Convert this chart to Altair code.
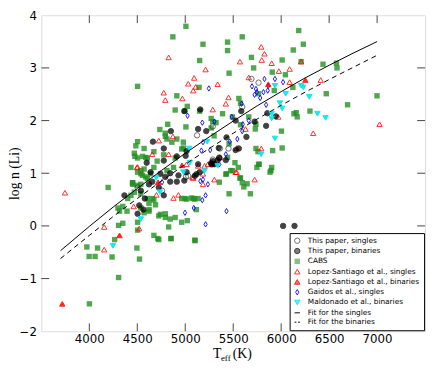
import altair as alt
import pandas as pd

# ---------------- data ----------------
cabs_teff = [5007, 4871, 5185, 5150, 4503, 4912, 5144, 5021, 4895, 5007, 4817, 4735, 4792, 4503, 4485, 4469,
             4571, 4673, 4912, 4980, 4503, 4605, 4707, 4776, 4571, 4673, 4809, 4878, 4537, 4588, 4639, 4451,
             4196, 5287, 5301,
             6183, 6231, 6126, 5441, 5441, 5594, 5690, 5713, 6010, 6208, 5457, 6044, 5907, 6436, 6576, 6582,
             6999, 6692, 6470, 6300, 6157, 6133, 6167, 6003, 6010, 5911, 5737, 5758, 5771, 5747, 5901, 5894,
             5570, 5594, 5645, 5611, 5355, 5430, 5474, 5518, 5559, 5576, 5764, 5928, 6122, 5389, 5730, 5737,
             5662, 5492, 5457, 5270, 5576,
             4298, 4393, 4305, 4349, 4503, 4451, 4503, 4400, 4469, 4537, 4503, 4571, 4622, 4656, 4690, 4724,
             4792, 4673, 4714, 4496, 4086, 3974, 4264, 4475, 4588, 4503, 4605,
             3998, 4060, 4237, 4305, 4001, 4523, 4853, 5103,
             5441, 5553, 5492, 5423, 5576, 5679, 5457, 5764, 5884, 5134, 5083, 5014, 4963, 5116, 4792, 4843,
             4895, 4963, 5021, 4827, 4850, 5099, 4724, 4895,
             4997, 4792, 4809, 4860, 5270, 5321, 4980, 4963, 4554, 5150,
             4434, 4537, 4554, 4451, 4537, 4434, 4605, 4622, 4673, 4997, 5065, 5099, 4537, 4622, 4741, 4349,
             4315]
cabs_logn = [3.79, 3.59, 3.45, 3.14, 2.65, 2.47, 2.63, 2.27, 2.20, 1.88, 1.93, 1.83, 1.70, 1.60, 1.52, 1.38,
             1.47, 1.41, 1.65, 1.48, 1.29, 1.29, 1.23, 1.35, 1.08, 1.11, 1.05, 1.11, 0.99, 0.93, 0.99, 0.79,
             0.73, 1.98, 1.71,
             3.71, 3.45, 3.34, 3.49, 3.33, 3.59, 3.20, 3.00, 3.15, 3.12, 2.90, 2.87, 2.92, 3.07, 3.09, 3.00,
             2.47, 2.30, 2.51, 2.18, 2.15, 2.13, 2.07, 1.80, 1.48, 1.43, 1.47, 1.41, 1.17, 1.11, 1.11, 1.05,
             0.91, 0.82, 0.80, 0.74, 0.83, 0.99, 1.05, 1.20, 2.42, 2.33, 2.51, 2.57, 2.63, 2.13, 1.84, 1.93,
             2.07, 2.07, 1.56, 1.86, 1.92,
             0.34, 0.28, 0.01, 0.05, 0.07, 0.82, 0.77, 0.52, 0.64, 0.61, -0.08, 0.25, 0.28, 0.52, 0.40, 0.19,
             0.16, -0.18, -0.24, -0.42, -0.42, -0.40, -0.26, 1.32, 1.30, 1.02, 0.90,
             -0.58, -0.58, -0.59, -0.98, -1.48, -0.63, -0.24, -0.28,
             1.30, 1.11, 1.05, 0.98, 0.91, 0.61, 0.61, 1.17, 1.02, 0.52, 0.52, 0.51, 0.52, 0.31, 0.23, 0.13,
             0.16, 0.07, 0.10, -0.02, -0.24, -0.27, -0.26, 1.29,
             2.18, 1.76, 1.65, 1.59, 2.04, 1.96, 1.59, 1.46, 1.32, 2.18,
             1.11, 1.05, 0.96, 0.82, 0.79, 0.58, 0.52, 0.43, 0.49, 0.52, 0.53, 0.51, 0.34, 0.31, 0.22, 0.37,
             0.28]

lopez_s_teff = [4827, 5212, 5093, 5031, 5109, 5083, 4776, 4792, 4970, 5287, 4871, 4724, 4656, 4827, 4496, 5083,
                5201, 5304, 5792, 5826, 5798, 5570, 5901, 5976, 6088, 6208, 5662, 5338, 6088, 6412, 5451, 5423,
                5969, 5628, 6334, 7026, 5536, 5792, 5536, 3746, 4155, 4155, 4462, 4520, 4503, 4700, 5525, 5723,
                5185, 5075, 5185, 4929, 4878, 5236, 5134, 5362, 5014]
lopez_s_logn = [3.20, 2.97, 2.81, 2.70, 2.64, 2.57, 2.53, 2.39, 2.42, 2.21, 1.70, 1.62, 1.36, 1.36, 1.11, 0.91,
                1.14, 0.88, 3.40, 3.27, 3.15, 3.12, 3.09, 2.94, 2.98, 3.12, 2.82, 2.69, 2.73, 2.77, 2.44, 2.32,
                2.07, 1.84, 1.76, 1.93, 1.48, 1.47, 1.02, 0.63, -0.02, -0.45, 0.37, -0.05, 1.12, 0.59, 1.02, 0.88,
                0.99, 0.92, 0.79, 0.59, 0.53, 1.17, 1.14, 1.30, 1.17]

lopez_b_teff = [3718, 4315, 4717, 4966, 5866, 6252]
lopez_b_logn = [-1.48, -0.18, 0.83, 1.15, 2.69, 2.77]

gaidos_teff = [5246, 5024, 5178, 5304, 5185, 5168, 5260, 4758, 5185, 5236, 5696, 5737, 5826, 5866, 5935, 6020,
               5815, 5860, 5781, 5843, 5587, 5600, 5662, 5594, 5543, 5464, 5423, 5355, 5157, 5212, 5178, 5089,
               4997, 5430, 5212, 5485, 5723, 5747]
gaidos_logn = [2.61, 2.09, 1.96, 1.98, 1.59, 1.43, 1.44, 0.83, 0.88, 0.79, 2.65, 2.60, 2.79, 2.66, 2.79, 2.73,
               2.54, 2.57, 2.43, 2.30, 2.32, 1.93, 2.00, 1.80, 1.65, 1.60, 1.36, 1.17, 0.85, 0.58, 0.49, 0.34,
               0.25, 0.28, 0.03, 2.07, 2.49, 2.54]

maldo_teff = [5935, 6208, 6231, 6047, 6293, 5986, 6010, 5901, 5901, 6378, 6463, 5935, 5792, 5229, 5338, 4697,
              4735, 4537, 4247, 4980, 5048, 5201, 5041]
maldo_logn = [2.66, 2.66, 2.63, 2.51, 2.45, 2.33, 2.23, 2.13, 2.04, 2.13, 2.05, 1.66, 1.36, 1.60, 1.14, 0.91,
              0.64, 0.13, -0.38, 1.02, 1.20, 1.04, 1.47]

bin_teff = [4990, 5157, 5134, 5219, 4850, 4663, 4776, 5014, 4598, 4776, 4912, 5134, 5280, 4639, 4741, 4843,
            5150, 5099, 4622, 4843, 4912, 4990, 5584, 5525, 5856, 5945, 5723, 5843, 5638, 5430, 5349, 5559,
            5525, 5423, 5338, 5270, 5304, 4537, 4578, 4520, 4564, 4503, 4656, 4724, 4776, 4792, 4929, 5014,
            5116, 5287, 5355, 4366, 6020, 6139, 5004]
bin_logn = [2.18, 2.21, 1.84, 1.80, 1.80, 1.60, 1.47, 1.42, 1.20, 1.24, 1.32, 1.17, 1.17, 1.02, 0.99, 1.00,
            1.02, 0.95, 0.79, 0.84, 0.84, 0.86, 2.18, 2.00, 2.14, 2.08, 1.98, 1.90, 1.69, 1.68, 1.48, 1.47,
            1.44, 1.25, 1.25, 1.19, 1.17, 0.67, 0.52, 0.39, 0.31, 0.23, 0.84, 0.73, 0.58, 0.93, 0.96, 1.02,
            0.98, 1.23, 1.29, 0.58, 0.00, 0.00, 1.33]

sing_teff = [5123, 5007, 5287, 5690, 5764, 5594, 5451, 5355, 5270, 5362, 5031, 5287, 4503, 4758]
sing_logn = [1.72, 0.93, 1.89, 2.79, 2.72, 2.26, 1.47, 1.30, 1.17, 1.47, 0.95, 1.26, 0.73, 0.67]

fit_teff = [3700, 4000, 4250, 4500, 4750, 5000, 5250, 5500, 5750, 6000, 6250, 6500, 6750, 7000]
fit_singles = [-0.47, -0.01, 0.36, 0.71, 1.05, 1.38, 1.69, 1.99, 2.28, 2.55, 2.81, 3.05, 3.28, 3.50]
fit_binaries = [-0.62, -0.18, 0.18, 0.52, 0.85, 1.17, 1.47, 1.76, 2.03, 2.29, 2.54, 2.78, 3.01, 3.24]

x_ticks = [4000, 4500, 5000, 5500, 6000, 6500, 7000]
y_ticks = [-2, -1, 0, 1, 2, 3, 4]

labels = ["This paper, singles", "This paper, binaries", "CABS",
          "Lopez-Santiago et al., singles", "Lopez-Santiago et al., binaries",
          "Gaidos et al., singles", "Maldonado et al., binaries",
          "Fit for the singles", "Fit for the binaries"]

# ---------------- tables ----------------
order = [("CABS", cabs_teff, cabs_logn),
         ("Lopez-Santiago et al., singles", lopez_s_teff, lopez_s_logn),
         ("Gaidos et al., singles", gaidos_teff, gaidos_logn),
         ("This paper, singles", sing_teff, sing_logn),
         ("This paper, binaries", bin_teff, bin_logn),
         ("Maldonado et al., binaries", maldo_teff, maldo_logn),
         ("Lopez-Santiago et al., binaries", lopez_b_teff, lopez_b_logn)]
pts = pd.concat([pd.DataFrame({"teff": t, "logn": v, "series": n}) for n, t, v in order],
                ignore_index=True)
pts["ord"] = range(len(pts))
fits = pd.DataFrame({"teff": fit_teff, "singles": fit_singles, "binaries": fit_binaries})
xt = pd.DataFrame({"teff": x_ticks})
yt = pd.DataFrame({"logn": y_ticks[1:-1]})

W, H = 391, 322
FRAME = "#444444"

xs = alt.Scale(domain=[3500, 7500], nice=False, zero=False)
ys = alt.Scale(domain=[-2, 4], nice=False, zero=False)
xaxis = alt.Axis(values=x_ticks, format="d", ticks=False, domain=False, grid=False, title=None,
                 labelFont="DejaVu Sans", labelFontSize=12, labelColor="black", labelPadding=2)
yaxis = alt.Axis(values=y_ticks, format="d", ticks=False, domain=False, grid=False,
                 title="log n (Li)", titleFont="Liberation Serif", titleFontSize=14,
                 titleFontWeight="normal", titleColor="black", titleX=-27, titleY=H / 2,
                 titleAlign="center", titleBaseline="middle", titleAngle=270,
                 labelFont="DejaVu Sans", labelFontSize=12, labelColor="black", labelPadding=5)
X = alt.X("teff:Q", scale=xs, axis=xaxis)
Y = alt.Y("logn:Q", scale=ys, axis=yaxis)

shapes = ["circle", "circle", "square", "triangle-up", "triangle-up",
          "M0,-1L0.6,0L0,1L-0.6,0Z", "triangle-down", "M-1,0H1", "M-1,0H-0.3M0.3,0H1"]
fills = ["transparent", "black", "#1f8f1f", "transparent", "red", "transparent", "#00e8f0",
         "transparent", "transparent"]
strokes = ["#333333", "black", "transparent", "red", "red", "blue", "#00e8f0", "black", "black"]
opac = [0.7, 1, 0.65, 0.7, 1, 0.6, 1, 1, 1]
sizes = [30, 30, 42, 50, 45, 75, 45, 100, 100]

leg = alt.Legend(title=None, orient="none", legendX=253, legendY=222, strokeColor="black",
                 fillColor="white", padding=4, cornerRadius=0, labelFont="DejaVu Sans",
                 labelFontSize=7.5, labelColor="black", rowPadding=0.5, symbolStrokeWidth=1,
                 labelOffset=7, labelLimit=300)

points = alt.Chart(pts).mark_point(strokeWidth=1).encode(
    x=X, y=Y,
    shape=alt.Shape("series:N", scale=alt.Scale(domain=labels, range=shapes), legend=leg),
    fill=alt.Fill("series:N", scale=alt.Scale(domain=labels, range=fills), legend=leg),
    stroke=alt.Stroke("series:N", scale=alt.Scale(domain=labels, range=strokes), legend=leg),
    opacity=alt.Opacity("series:N", scale=alt.Scale(domain=labels, range=opac), legend=leg),
    size=alt.Size("series:N", scale=alt.Scale(domain=labels, range=sizes), legend=leg),
    order=alt.Order("ord:Q"),
)

line_s = alt.Chart(fits).mark_line(color="black", strokeWidth=1).encode(
    x=X, y=alt.Y("singles:Q", scale=ys, axis=yaxis))
line_b = alt.Chart(fits).mark_line(color="black", strokeWidth=1, strokeDash=[5, 4]).encode(
    x=X, y=alt.Y("binaries:Q", scale=ys, axis=yaxis))

tick_b = alt.Chart(xt).mark_rule(color=FRAME).encode(x=X, y=alt.value(H), y2=alt.value(H - 8))
tick_t = alt.Chart(xt).mark_rule(color=FRAME).encode(x=X, y=alt.value(0), y2=alt.value(8))
tick_l = alt.Chart(yt).mark_rule(color=FRAME).encode(y=Y, x=alt.value(0), x2=alt.value(8))
tick_r = alt.Chart(yt).mark_rule(color=FRAME).encode(y=Y, x=alt.value(W), x2=alt.value(W - 8))

one = alt.Data(values=[{"k": 1}])
t_T = alt.Chart(one).mark_text(text="T", font="Liberation Serif", fontSize=14, align="left",
                               baseline="alphabetic", color="black").encode(
    x=alt.value(175), y=alt.value(H + 27))
t_eff = alt.Chart(one).mark_text(text="eff", font="Liberation Serif", fontSize=9, align="left",
                                 baseline="alphabetic", color="black").encode(
    x=alt.value(183), y=alt.value(H + 30))
t_K = alt.Chart(one).mark_text(text="(K)", font="Liberation Serif", fontSize=14, align="left",
                               baseline="alphabetic", color="black").encode(
    x=alt.value(195), y=alt.value(H + 27))

chart = alt.layer(tick_b, tick_t, tick_l, tick_r, points, line_s, line_b, t_T, t_eff, t_K).properties(
    width=W, height=H, autosize="none",
    padding={"left": 34, "top": 4, "right": 3, "bottom": 30},
).configure_view(stroke=FRAME, strokeWidth=1).configure(background="white")

chart.save("out.html", embed_options={"renderer": "svg", "actions": False})
